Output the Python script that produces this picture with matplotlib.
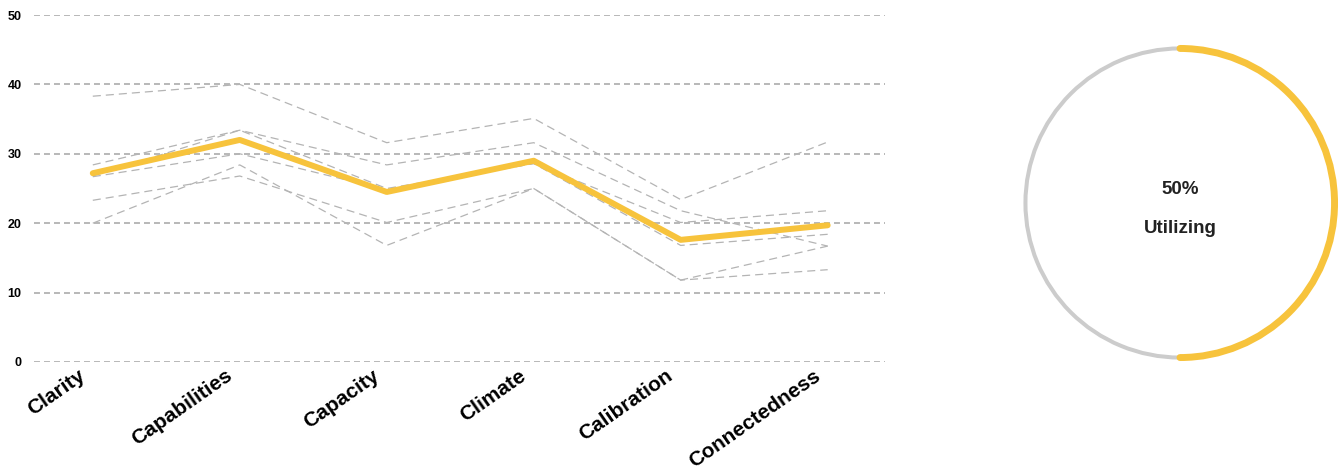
import numpy as np
import matplotlib
matplotlib.use("Agg")
import matplotlib.pyplot as plt
import matplotlib.transforms as mtransforms
from matplotlib.patches import Arc

plt.rcParams['font.family'] = ['Liberation Sans', 'DejaVu Sans']
plt.rcParams['lines.scale_dashes'] = False

# dimensions on the x axis
categories = ['Clarity', 'Capabilities', 'Capacity', 'Climate', 'Calibration', 'Connectedness']

# individual responses (grey dashed lines)
resp_a = [38.3, 40.0, 31.6, 35.1, 23.4, 31.7]
resp_b = [28.4, 33.4, 28.4, 31.6, 21.8, 16.7]
resp_c = [26.8, 33.4, 25.0, 28.6, 20.1, 21.8]
resp_d = [26.7, 30.0, 24.8, 28.6, 16.8, 18.4]
resp_e = [20.0, 28.4, 16.8, 25.0, 11.8, 13.3]
resp_f = [23.3, 26.8, 20.1, 25.0, 11.8, 16.7]
responses = [resp_a, resp_b, resp_c, resp_d, resp_e, resp_f]

# highlighted average line
average = [27.2, 32.0, 24.5, 29.0, 17.6, 19.7]

y_ticks = [0, 10, 20, 30, 40, 50]

utilization = 50
util_label = 'Utilizing'

W, H = 1338, 470
fig = plt.figure(figsize=(W / 100, H / 100), dpi=100)

# line chart
ax = fig.add_axes([34 / W, (H - 362) / H, 851 / W, 347 / H])
x = np.arange(len(categories))
for r in responses:
    ax.plot(x, r, color='#b4b4b4', lw=0.9, dashes=(5.8, 3.6), zorder=2)
ax.plot(x, average, color='#f7c33c', lw=4.3, solid_capstyle='round',
        solid_joinstyle='round', zorder=3)

ax.set_ylim(0, 50)
ax.set_xlim(-0.4, 5.39)
ax.set_yticks(y_ticks)
ax.set_xticks(x)
ax.set_xticklabels([])
ax.tick_params(axis='both', length=0)
ax.tick_params(axis='y', pad=9)
for lbl in ax.get_yticklabels():
    lbl.set_fontweight('bold')
    lbl.set_fontsize(9)

# category labels: rotated, ending a little left of each tick
shift = mtransforms.ScaledTranslation(-0.15, -0.04, fig.dpi_scale_trans)
lab_tr = ax.get_xaxis_transform() + shift
for xi, name in zip(x, categories):
    ax.text(xi, 0, name, transform=lab_tr, rotation=35, ha='right', va='top',
            rotation_mode='anchor', fontsize=15, fontweight='bold')

ax.grid(axis='y', color='#a4a4a4', lw=1.1, dashes=(4.3, 2.9))
ax.set_axisbelow(True)
for s in ax.spines.values():
    s.set_visible(False)

# donut gauge
cx, cy, size = 1180, H - 203, 340
dax = fig.add_axes([(cx - size / 2) / W, (cy - size / 2) / H, size / W, size / H])
dax.set_xlim(-1.1, 1.1)
dax.set_ylim(-1.1, 1.1)
dax.set_aspect('equal')
dax.axis('off')
dax.add_patch(Arc((0, 0), 2, 2, theta1=0, theta2=360, color='#cccccc', lw=2.9))
sweep = 360 * utilization / 100
dax.add_patch(Arc((0, 0), 2, 2, theta1=90 - sweep, theta2=90, color='#f7c33c',
                  lw=5, capstyle='round'))
dax.text(0, 0.09, f'{utilization}%', ha='center', va='center', fontsize=13.5,
         fontweight='bold', color='#222222')
dax.text(0, -0.165, util_label, ha='center', va='center', fontsize=13.5,
         fontweight='bold', color='#222222')

fig.savefig('out.png', dpi=100)
